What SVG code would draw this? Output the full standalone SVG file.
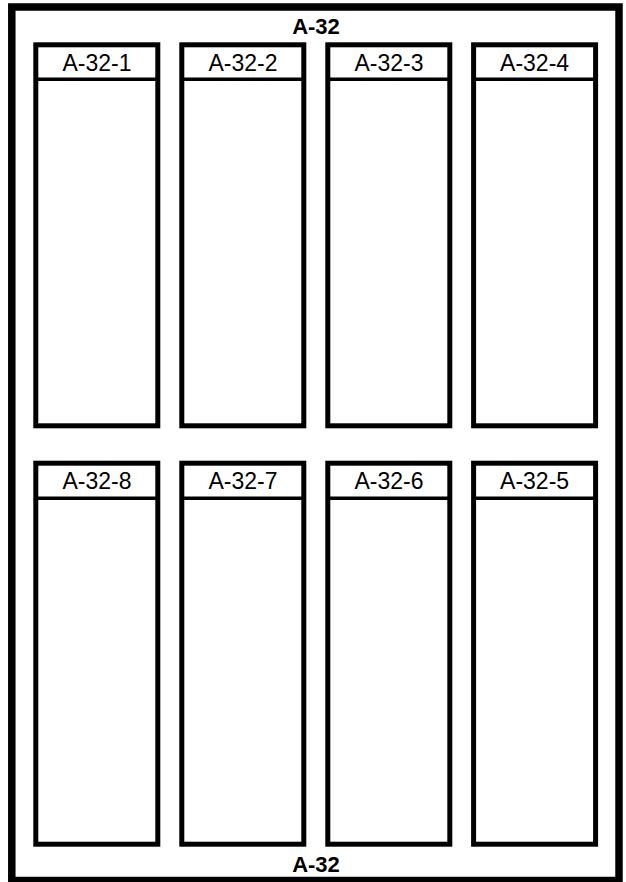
<svg xmlns="http://www.w3.org/2000/svg" width="626" height="882" viewBox="0 0 626 882">
<style>
.frame{fill:#fff;stroke:#000;stroke-width:7.5}
.box{fill:#fff;stroke:#000;stroke-width:5}
.div{stroke:#000;stroke-width:3.5}
.lbl{font-family:"Liberation Sans",Arial,sans-serif;font-size:23px;fill:#000;text-anchor:middle}
.title{font-family:"Liberation Sans",Arial,sans-serif;font-size:22px;font-weight:bold;fill:#000;text-anchor:middle}
</style>
<rect width="626" height="882" fill="#fff"/>
<g id="A-32">
<rect class="frame" x="11.8" y="7" width="607.2" height="873.5"/>
<text class="title" x="316" y="34.3">A-32</text>
<text class="title" x="316" y="871.7">A-32</text>
</g>
<g id="connectors"></g>
<g id="A-32-1"><rect class="box" x="35.8" y="44.8" width="122" height="381"/><line class="div" x1="35.8" y1="79.3" x2="157.8" y2="79.3"/><text class="lbl" x="97" y="71">A-32-1</text></g>
<g id="A-32-2"><rect class="box" x="181.8" y="44.8" width="122" height="381"/><line class="div" x1="181.8" y1="79.3" x2="303.8" y2="79.3"/><text class="lbl" x="243" y="71">A-32-2</text></g>
<g id="A-32-3"><rect class="box" x="327.8" y="44.8" width="122" height="381"/><line class="div" x1="327.8" y1="79.3" x2="449.8" y2="79.3"/><text class="lbl" x="389" y="71">A-32-3</text></g>
<g id="A-32-4"><rect class="box" x="473.6" y="44.8" width="122" height="381"/><line class="div" x1="473.6" y1="79.3" x2="595.6" y2="79.3"/><text class="lbl" x="534.6" y="71">A-32-4</text></g>
<g id="A-32-8"><rect class="box" x="35.8" y="463.2" width="122" height="381"/><line class="div" x1="35.8" y1="498.3" x2="157.8" y2="498.3"/><text class="lbl" x="97" y="489">A-32-8</text></g>
<g id="A-32-7"><rect class="box" x="181.8" y="463.2" width="122" height="381"/><line class="div" x1="181.8" y1="498.3" x2="303.8" y2="498.3"/><text class="lbl" x="243" y="489">A-32-7</text></g>
<g id="A-32-6"><rect class="box" x="327.8" y="463.2" width="122" height="381"/><line class="div" x1="327.8" y1="498.3" x2="449.8" y2="498.3"/><text class="lbl" x="389" y="489">A-32-6</text></g>
<g id="A-32-5"><rect class="box" x="473.6" y="463.2" width="122" height="381"/><line class="div" x1="473.6" y1="498.3" x2="595.6" y2="498.3"/><text class="lbl" x="534.6" y="489">A-32-5</text></g>
</svg>
